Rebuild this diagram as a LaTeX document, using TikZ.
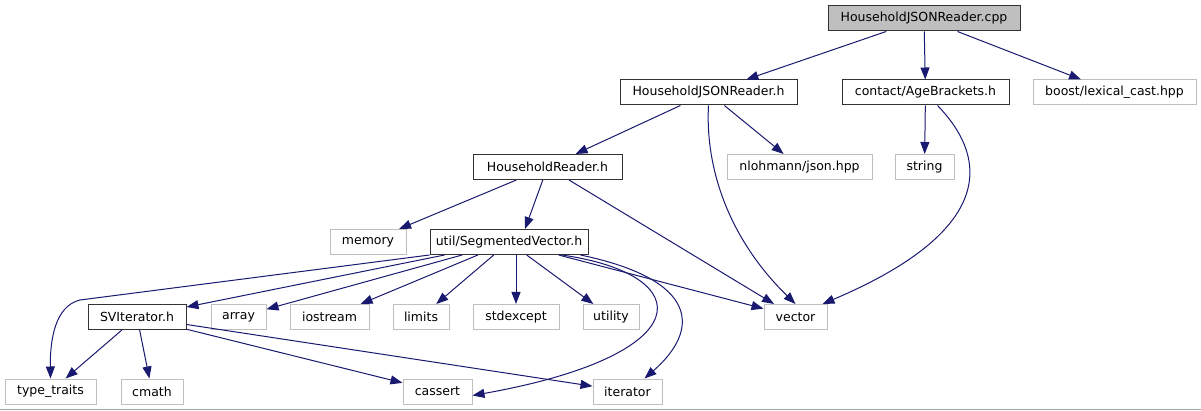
\documentclass[tikz,border=0pt]{standalone}
\usepackage{fontspec}
\setmainfont{DejaVu Sans}
\definecolor{EdgeBlue}{RGB}{25,25,112}
\definecolor{ExtGray}{RGB}{191,191,191}
\definecolor{RootGray}{RGB}{191,191,191}
\usetikzlibrary{arrows.meta,calc}

\begin{document}
\begin{tikzpicture}[x=1pt,y=-1pt,
  box/.style={rectangle,minimum height=25,inner sep=0pt,line width=1pt,fill=white,font=\fontsize{12.5}{14}\selectfont},
  doc/.style={box,draw=black!80},
  ext/.style={box,draw=ExtGray},
  dep/.style={EdgeBlue,line width=1pt,-{Triangle[length=12pt,width=9pt]}}]
\useasboundingbox (0,0) rectangle (1201,411);
\draw[gray!70,line width=1.2pt] (0,409.5) -- (1201,409.5);
% root file
\node[doc,fill=RootGray,minimum width=192] (cpp) at (924,18.5) {HouseholdJSONReader.cpp};
% first level
\node[doc,minimum width=177] (hjr) at (708.5,92.5) {HouseholdJSONReader.h};
\node[doc,minimum width=167] (age) at (925.5,92.5) {contact/AgeBrackets.h};
\node[ext,minimum width=163] (boost) at (1114.5,92.5) {boost/lexical\_cast.hpp};
% second level
\node[doc,minimum width=149] (hr) at (547.5,167) {HouseholdReader.h};
\node[ext,minimum width=145] (json) at (799.5,167) {nlohmann/json.hpp};
\node[ext,minimum width=59] (string) at (924.5,167) {string};
% third level
\node[ext,minimum width=76] (memory) at (368,242) {memory};
\node[doc,minimum width=158] (segvec) at (509,242) {util/SegmentedVector.h};
% fourth level
\node[doc,minimum width=98] (sviter) at (137,317) {SVIterator.h};
\node[ext,minimum width=55] (array) at (238.5,317) {array};
\node[ext,minimum width=79] (iostream) at (329.5,317) {iostream};
\node[ext,minimum width=56] (limits) at (421,317) {limits};
\node[ext,minimum width=86] (stdexcept) at (516,317) {stdexcept};
\node[ext,minimum width=56] (utility) at (611,317) {utility};
\node[ext,minimum width=63] (vector) at (795.5,317) {vector};
% bottom level
\node[ext,minimum width=91] (types) at (50.5,391.5) {type\_traits};
\node[ext,minimum width=62] (cmath) at (152,391.5) {cmath};
\node[ext,minimum width=69] (cassert) at (437.5,391.5) {cassert};
\node[ext,minimum width=69] (iterator) at (627.5,391.5) {iterator};
% includes of the root
\draw[dep] (cpp) -- (hjr);
\draw[dep] (cpp) -- (age);
\draw[dep] (cpp) -- (boost);
% includes of the headers
\draw[dep] (hjr.south) .. controls (705,170) and (730,240) .. (vector.north);
\draw[dep] (hjr) -- (hr);
\draw[dep] (hjr) -- (json);
\draw[dep] (age) -- (string);
\draw[dep] ($(age.south)+(12,0)$) .. controls (995,165) and (985,235) .. ($(vector.north east)+(-5,0)$);
\draw[dep] (hr) -- (memory);
\draw[dep] (hr) -- ([xshift=16]segvec.north);
\draw[dep] (hr) -- (vector);
% includes of the segmented vector
\draw[dep] (segvec.south west) -- (80,300) .. controls (55,306) and (50,340) .. (types.north);
\draw[dep] (segvec) -- (sviter);
\draw[dep] (segvec) -- (array);
\draw[dep] (segvec) -- (iostream);
\draw[dep] (segvec) -- (limits);
\draw[dep] (stdexcept.north |- segvec.south) -- (stdexcept);
\draw[dep] (segvec) -- (utility);
\draw[dep] (segvec) -- (vector);
\draw[dep] ($(segvec.south)+(53,0)$) .. controls (700,275) and (700,355) .. ([yshift=-4]cassert.east);
\draw[dep] ($(segvec.south east)+(-8,0)$) .. controls (700,280) and (700,330) .. ([xshift=17]iterator.north);
% includes of the iterator
\draw[dep] (sviter) -- (types);
\draw[dep] (sviter) -- (cmath);
\draw[dep] (sviter) -- (cassert);
\draw[dep] (sviter) -- (iterator);
\end{tikzpicture}
\end{document}
